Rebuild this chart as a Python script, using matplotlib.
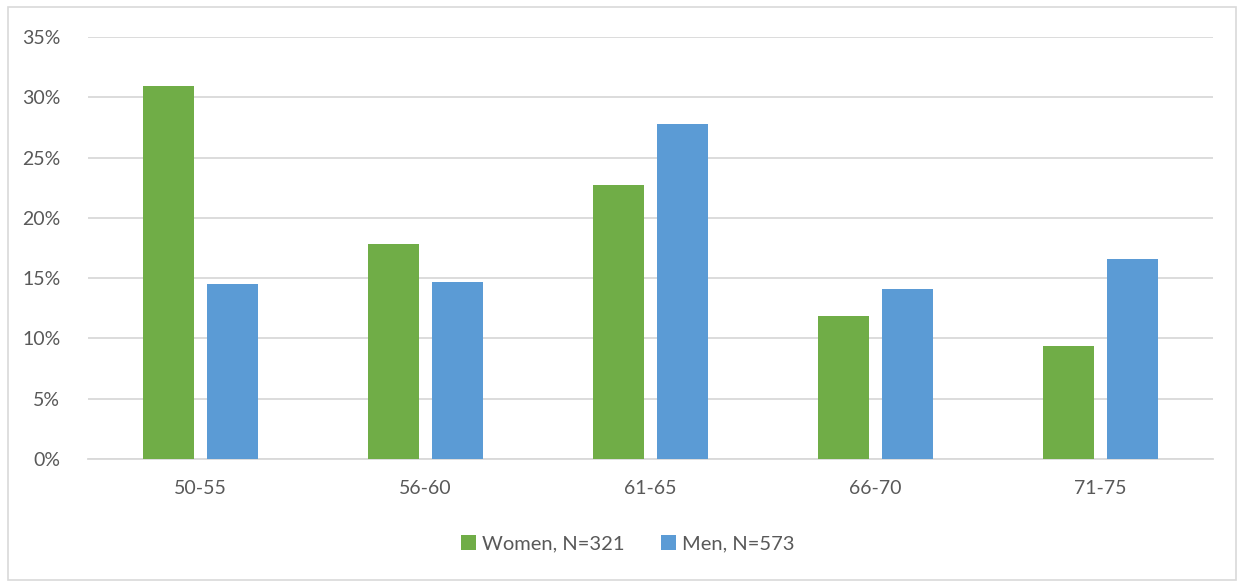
import numpy as np
import matplotlib
matplotlib.use('Agg')
import matplotlib.pyplot as plt
from matplotlib.patches import Rectangle
from matplotlib.ticker import FuncFormatter

plt.rcParams['font.family'] = ['Lato', 'DejaVu Sans']

age_groups = ['50-55', '56-60', '61-65', '66-70', '71-75']
women = [30.9, 17.8, 22.75, 11.85, 9.35]
men = [14.5, 14.65, 27.8, 14.1, 16.6]

GREEN = '#70AD47'
BLUE = '#5B9BD5'
TEXT = '#595959'
GRID = '#D9D9D9'

fig = plt.figure(figsize=(12.43, 5.82), dpi=100)
ax = fig.add_axes([88 / 1243, 1 - 459 / 582, (1213 - 88) / 1243, (459 - 37) / 582])

# outer chart border
fig.patches.append(Rectangle((8 / 1243, 2 / 582), 1228 / 1243, 573 / 582,
                             transform=fig.transFigure, fill=False,
                             edgecolor=GRID, linewidth=1.2))

x = np.arange(len(age_groups))
w = 0.227
off = 0.142
ax.bar(x - off, women, w, color=GREEN, label='Women, N=321', zorder=3)
ax.bar(x + off, men, w, color=BLUE, label='Men, N=573', zorder=3)

ax.set_xlim(-0.5, len(age_groups) - 0.5)
ax.set_ylim(0, 35)
ax.set_yticks(np.arange(0, 36, 5))
ax.yaxis.set_major_formatter(FuncFormatter(lambda v, p: f'{v:.0f}%'))
ax.set_xticks(x)
ax.set_xticklabels(age_groups)
ax.grid(axis='y', color=GRID, linewidth=1.3, zorder=0)
ax.tick_params(axis='both', length=0, labelsize=14, labelcolor=TEXT)
ax.tick_params(axis='y', pad=20)
ax.tick_params(axis='x', pad=15)
for s in ['top', 'right', 'left']:
    ax.spines[s].set_visible(False)
ax.spines['bottom'].set_color(GRID)
ax.spines['bottom'].set_linewidth(1.3)

fig.legend(loc='center', bbox_to_anchor=(628 / 1243, 1 - 544 / 582), ncol=2,
           frameon=False, fontsize=14.5, labelcolor=TEXT, handlelength=0.75,
           handleheight=0.75, handletextpad=0.3, columnspacing=1.8)

fig.savefig('out.png', dpi=100)
